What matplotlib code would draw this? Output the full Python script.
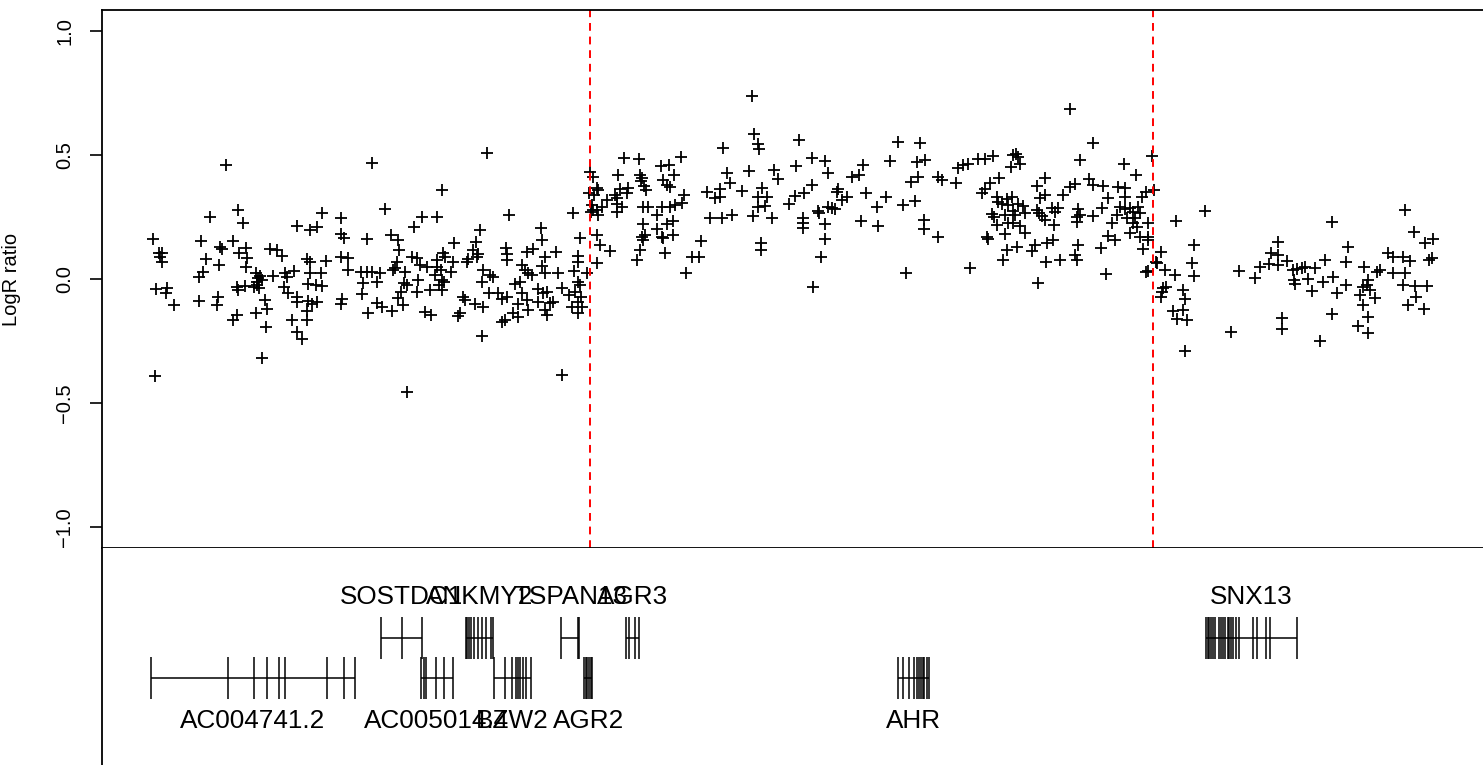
import matplotlib
matplotlib.use("Agg")
import matplotlib.pyplot as plt

plt.rcParams['font.family'] = ['Liberation Sans', 'DejaVu Sans']

# ---------------- data ----------------
# probe positions (Mb, chr7) and LogR ratios
pos = [
    16.164, 16.174, 16.179, 16.176, 16.180, 16.170, 16.188, 16.186, 16.198, 16.168,
    16.241, 16.250, 16.245, 16.239, 16.239, 16.256, 16.281, 16.272, 16.276, 16.271,
    16.269, 16.268, 16.292, 16.301, 16.309, 16.314, 16.302, 16.315, 16.313, 16.299,
    16.301, 16.312, 16.293, 16.299, 16.329, 16.333, 16.336, 16.339, 16.332, 16.327,
    16.334, 16.331, 16.356, 16.352, 16.363, 16.371, 16.330, 16.348, 16.346, 16.344,
    16.340, 16.376, 16.379, 16.375, 16.381, 16.390, 16.395, 16.416, 16.428, 16.436,
    16.412, 16.416, 16.441, 16.416, 16.433, 16.413, 16.425, 16.435, 16.395, 16.396,
    16.413, 16.419, 16.428, 16.412, 16.412, 16.387, 16.396, 16.404, 16.466, 16.466,
    16.471, 16.465, 16.477, 16.477, 16.497, 16.507, 16.501, 16.499, 16.467, 16.465,
    16.508, 16.509,
    16.515, 16.700, 16.628, 16.536, 16.595, 16.620, 16.582, 16.735, 16.837, 16.864,
    16.869, 16.862, 16.848, 16.860, 16.844, 16.844, 16.838, 16.845, 16.848, 16.840,
    16.850, 16.845, 16.851, 16.845, 16.835, 16.830, 16.820, 16.820, 16.785, 16.787,
    16.810, 16.792, 16.787, 16.792, 16.813, 16.773, 16.764, 16.755, 16.760, 16.765,
    16.772, 16.744, 16.752, 16.755, 16.763, 16.749, 16.781, 16.789, 16.796, 16.805,
    16.800, 16.792, 16.795, 16.780, 16.765, 16.741, 16.749, 16.728, 16.724, 16.729,
    16.731, 16.731, 16.732, 16.724, 16.717, 16.703, 16.709, 16.704, 16.691, 16.693,
    16.688, 16.682, 16.677, 16.685, 16.683, 16.669, 16.667, 16.693, 16.680, 16.692,
    16.661, 16.664, 16.656, 16.652, 16.646, 16.645, 16.642, 16.629, 16.632, 16.619,
    16.620, 16.626, 16.616, 16.627, 16.622, 16.631, 16.628, 16.608, 16.609, 16.600,
    16.592, 16.603, 16.587, 16.580, 16.589, 16.587, 16.571, 16.557, 16.565, 16.557,
    16.546, 16.559, 16.555, 16.552, 16.549, 16.568, 16.567, 16.562, 16.515, 16.528,
    16.523, 16.523, 16.532, 16.547, 16.571,
    17.123, 17.127, 17.132, 17.134, 17.198, 17.077, 16.919, 16.942, 17.009, 16.978,
    16.990, 16.908, 16.944, 16.947, 16.946, 16.999, 16.981, 16.987, 16.992, 16.951,
    16.953, 16.912, 16.925, 16.923, 16.875, 16.877, 16.904, 16.907, 16.891, 16.883,
    16.875, 16.877, 16.907, 16.907, 16.915, 16.875, 16.880, 16.875, 16.896, 17.014,
    17.012, 17.000, 16.992, 16.979, 16.949, 16.957, 16.971, 16.949, 16.987, 16.997,
    16.971, 16.979, 16.981, 16.952, 16.947, 16.949, 16.997, 16.944, 16.939, 16.984,
    17.042, 17.027, 17.038, 17.017, 17.052, 17.072, 17.083, 17.088, 17.064, 17.072,
    17.108, 17.118, 17.056, 17.075, 17.092, 17.125, 17.139, 17.132, 17.148, 17.133,
    17.144, 17.156, 17.138, 17.138, 17.158, 17.165, 17.193, 17.219, 17.240, 17.245,
    17.219, 17.207, 17.192, 17.182, 17.228, 17.230, 17.245, 17.205, 17.204, 17.205,
    17.240, 17.240, 17.234, 17.221, 16.871, 16.867, 16.869, 16.866,
    17.356, 17.392, 17.300, 17.344, 17.387, 17.400, 17.284, 17.294, 17.389, 17.378,
    17.421, 17.427, 17.450, 17.452, 17.461, 17.469, 17.485, 17.496, 17.509, 17.541,
    17.545, 17.549, 17.552, 17.538, 17.518, 17.504, 17.496, 17.491, 17.261, 17.259,
    17.275, 17.267, 17.305, 17.338, 17.256, 17.251, 17.323, 17.365, 17.384, 17.298,
    17.324, 17.399, 17.399, 17.420, 17.370, 17.472, 17.592, 17.580, 17.592, 17.584,
    17.621, 17.515, 17.517, 17.531, 17.539, 17.523, 17.533, 17.549, 17.557, 17.560,
    17.541, 17.528, 17.507, 17.511, 17.544, 17.579, 17.582, 17.587, 17.592, 17.603,
    17.613, 17.608, 17.515, 17.533, 17.541, 17.552, 17.560, 17.528, 17.500, 17.501,
    17.532, 17.547, 17.525, 17.576, 17.571, 17.595, 17.605, 17.593, 17.616, 17.581,
    17.606,
    17.632, 17.669, 17.648, 17.718, 17.738, 17.764, 17.663, 17.669, 17.640, 17.632,
    17.685, 17.709, 17.720, 17.693, 17.720, 17.747, 17.754, 17.766, 17.645, 17.648,
    17.643, 17.643, 17.669, 17.683, 17.712, 17.720, 17.728, 17.733, 17.741, 17.744,
    17.708, 17.723, 17.736, 17.699, 17.733, 17.739, 17.756, 17.728, 17.744, 17.756,
    17.757, 17.693, 17.704, 17.749, 17.645, 17.640, 17.644, 17.681, 17.690, 17.754,
    17.757, 17.777, 17.770, 17.772, 17.784, 17.800, 17.781, 17.786, 17.779, 17.777,
    17.802, 17.848, 17.830, 17.827, 17.831, 17.813, 17.816, 17.797, 17.813, 17.803,
    17.819, 17.816, 17.902, 17.928, 17.936, 17.951, 17.954, 17.965, 17.965, 17.965,
    17.979, 17.889, 17.971, 17.971,
    17.989, 17.990, 17.992, 18.008, 17.995, 18.013, 18.024, 18.019, 18.040, 18.037,
    18.053, 18.059, 18.073, 18.074, 18.077, 18.051, 18.051, 18.032, 18.003,
    18.102, 18.107, 18.100, 18.096, 18.112, 18.124, 18.128, 18.101, 18.109, 18.093,
    18.108, 18.120, 18.141, 18.149, 18.165, 18.176, 18.168, 18.149, 18.164, 18.184,
    18.203, 18.186, 18.172, 18.198, 18.168, 18.182, 18.200, 18.213, 18.207, 18.212,
    18.109,
]
logr = [
    0.16, 0.104, 0.104, 0.09, 0.07, -0.042, -0.038, -0.058, -0.105, -0.39,
    0.154, 0.079, 0.03, 0.01, -0.087, 0.25, 0.46, 0.13, 0.122, 0.056,
    -0.071, -0.105, 0.153, 0.278, 0.227, 0.124, 0.106, 0.083, 0.047, -0.031,
    -0.044, -0.028, -0.165, -0.145, 0.023, 0.003, 0.012, -0.004, -0.024, -0.031,
    -0.038, -0.011, 0.012, 0.12, 0.117, 0.093, -0.138, -0.122, -0.192, -0.085,
    -0.32, 0.023, 0.01, -0.031, -0.055, 0.034, 0.214, 0.198, 0.211, 0.265,
    0.08, 0.07, 0.074, 0.025, 0.023, -0.02, -0.024, -0.028, -0.071, -0.091,
    -0.09, -0.1, -0.091, -0.13, -0.165, -0.165, -0.212, -0.24, 0.245, 0.18,
    0.164, 0.09, 0.083, 0.036, 0.03, 0.03, -0.015, -0.06, -0.082, -0.1,
    0.16, -0.136,
    0.466, 0.507, 0.359, 0.281, 0.249, 0.251, 0.211, 0.258, 0.267, 0.433,
    0.412, 0.348, 0.164, 0.023, 0.093, 0.07, 0.034, -0.011, -0.024, -0.051,
    -0.071, -0.091, -0.111, -0.136, -0.111, -0.065, -0.038, -0.387, 0.204, 0.157,
    0.11, 0.09, 0.052, 0.025, 0.023, 0.12, 0.11, 0.056, 0.036, 0.023,
    0.016, -0.021, -0.011, -0.055, -0.085, -0.1, -0.042, -0.055, -0.051, -0.091,
    -0.098, -0.125, -0.145, -0.091, -0.125, -0.138, -0.152, -0.165, -0.172, 0.124,
    0.101, 0.077, -0.071, -0.082, -0.058, -0.058, 0.007, 0.016, -0.011, 0.036,
    0.198, 0.15, 0.117, 0.1, 0.09, 0.079, 0.07, -0.111, -0.1, -0.23,
    -0.071, -0.085, -0.138, -0.149, 0.146, 0.07, 0.03, 0.104, 0.09, 0.077,
    0.05, 0.036, 0.016, -0.004, -0.024, -0.011, -0.044, -0.044, -0.145, -0.132,
    0.056, 0.05, 0.083, 0.09, -0.004, -0.051, -0.024, -0.078, -0.105, 0.157,
    0.177, 0.117, 0.07, 0.043, 0.036, 0.03, -0.015, -0.051, 0.03, 0.025,
    -0.011, -0.098, -0.114, -0.131, -0.457,
    0.739, 0.585, 0.544, 0.524, 0.56, 0.527, 0.489, 0.484, 0.493, 0.456,
    0.46, 0.419, 0.419, 0.406, 0.395, 0.419, 0.399, 0.379, 0.37, 0.375,
    0.359, 0.363, 0.366, 0.345, 0.366, 0.359, 0.339, 0.325, 0.319, 0.292,
    0.278, 0.258, 0.302, 0.271, 0.292, 0.177, 0.137, 0.063, 0.114, 0.339,
    0.308, 0.298, 0.289, 0.292, 0.292, 0.292, 0.258, 0.222, 0.222, 0.235,
    0.2, 0.171, 0.164, 0.177, 0.171, 0.157, 0.177, 0.117, 0.077, 0.104,
    0.153, 0.087, 0.09, 0.023, 0.352, 0.361, 0.429, 0.386, 0.325, 0.329,
    0.356, 0.437, 0.245, 0.245, 0.258, 0.254, 0.366, 0.332, 0.332, 0.292,
    0.294, 0.245, 0.144, 0.117, 0.44, 0.403, 0.456, 0.489, 0.476, 0.429,
    0.379, 0.345, 0.335, 0.302, 0.274, 0.267, 0.289, 0.245, 0.227, 0.204,
    0.222, 0.16, 0.09, -0.031, 0.339, 0.30, 0.28, 0.27,
    0.554, 0.547, 0.46, 0.477, 0.473, 0.48, 0.412, 0.419, 0.41, 0.392,
    0.41, 0.399, 0.388, 0.446, 0.46, 0.464, 0.484, 0.484, 0.496, 0.5,
    0.504, 0.491, 0.464, 0.45, 0.406, 0.386, 0.362, 0.345, 0.362, 0.352,
    0.329, 0.319, 0.345, 0.329, 0.281, 0.285, 0.292, 0.298, 0.316, 0.235,
    0.214, 0.238, 0.2, 0.171, 0.023, 0.046, 0.406, 0.375, 0.339, 0.325,
    0.339, 0.329, 0.312, 0.321, 0.332, 0.302, 0.298, 0.302, 0.294, 0.267,
    0.276, 0.258, 0.262, 0.251, 0.258, 0.278, 0.267, 0.254, 0.238, 0.285,
    0.285, 0.271, 0.218, 0.224, 0.224, 0.214, 0.184, 0.181, 0.171, 0.16,
    0.117, 0.13, 0.077, 0.137, 0.114, 0.144, 0.157, 0.07, 0.077, -0.017,
    0.216,
    0.685, 0.55, 0.48, 0.464, 0.419, 0.497, 0.402, 0.379, 0.383, 0.372,
    0.375, 0.37, 0.366, 0.325, 0.332, 0.332, 0.352, 0.359, 0.281, 0.258,
    0.251, 0.231, 0.254, 0.285, 0.292, 0.281, 0.285, 0.271, 0.292, 0.265,
    0.258, 0.245, 0.245, 0.224, 0.224, 0.211, 0.224, 0.184, 0.171, 0.171,
    0.157, 0.173, 0.157, 0.12, 0.137, 0.097, 0.077, 0.126, 0.019, 0.03,
    0.034, 0.108, 0.07, 0.063, 0.036, 0.016, -0.038, -0.031, -0.051, -0.074,
    0.235, 0.276, 0.137, 0.063, 0.012, -0.044, -0.082, -0.128, -0.125, -0.163,
    -0.165, -0.289, 0.032, 0.003, 0.05, 0.06, 0.106, 0.15, 0.097, 0.056,
    0.074, -0.212, -0.159, -0.203,
    0.036, -0.004, -0.02, 0.047, 0.039, -0.001, 0.043, -0.047, 0.077, -0.011,
    0.009, -0.058, -0.024, 0.07, 0.13, 0.231, -0.141, -0.25, 0.043,
    0.047, -0.024, -0.034, -0.065, -0.044, 0.03, 0.036, -0.105, -0.152, -0.19,
    -0.219, -0.078, 0.106, 0.09, 0.09, 0.074, 0.023, 0.025, -0.024, -0.028,
    -0.028, -0.071, -0.105, -0.122, 0.278, 0.191, 0.146, 0.16, 0.077, 0.083,
    -0.004,
]
# segment breakpoints (Mb)
breakpoints = [16.864, 17.765]

# genes: name, track row (0 = upper, 1 = lower), exon positions (Mb)
gene_names = ["SOSTDC1", "ANKMY2", "TSPAN13", "AGR3", "SNX13",
              "AC004741.2", "AC005014.4", "BZW2", "AGR2", "AHR"]
gene_rows = [0, 0, 0, 0, 0, 1, 1, 1, 1, 1]
gene_exons = [
    [16.530, 16.563, 16.595],
    [16.665, 16.668, 16.671, 16.674, 16.679, 16.684, 16.691, 16.698, 16.706, 16.709],
    [16.818, 16.844, 16.847],
    [16.922, 16.926, 16.936, 16.942],
    [17.849, 17.852, 17.854, 17.858, 17.861, 17.864, 17.871, 17.874, 17.877, 17.880,
     17.884, 17.887, 17.890, 17.893, 17.898, 17.903, 17.925, 17.931, 17.946, 17.952, 17.995],
    [16.161, 16.285, 16.326, 16.347, 16.367, 16.376, 16.444, 16.470, 16.488],
    [16.593, 16.598, 16.601, 16.618, 16.630, 16.645],
    [16.711, 16.728, 16.740, 16.745, 16.749, 16.752, 16.757, 16.761, 16.769],
    [16.855, 16.857, 16.860, 16.862, 16.865, 16.868],
    [17.357, 17.364, 17.374, 17.383, 17.387, 17.390, 17.393, 17.396, 17.399, 17.403, 17.406],
]

yticks = [-1.0, -0.5, 0.0, 0.5, 1.0]
ytick_labels = ["\u22121.0", "\u22120.5", "0.0", "0.5", "1.0"]

# ---------------- figure ----------------
W, H = 1483, 765
fig = plt.figure(figsize=(W / 100, H / 100), dpi=100)
left = 102 / W
split = 217 / H
top_ax = fig.add_axes([left, split, 1 - left, (548 - 10) / H])
trk_ax = fig.add_axes([left, 0, 1 - left, split], sharex=top_ax)

xlim = (16.0832, 18.2928)

# scatter panel
top_ax.plot(pos, logr, linestyle="none", marker="+", markersize=8,
            markeredgewidth=1.3, color="black", clip_on=False)
for b in breakpoints:
    top_ax.axvline(b, color="red", linestyle=(0, (4, 3)), linewidth=1.4)
top_ax.set_xlim(*xlim)
top_ax.set_ylim(-1.085, 1.085)
top_ax.set_yticks(yticks)
top_ax.set_yticklabels(ytick_labels, rotation=90, va="center")
top_ax.tick_params(axis="y", length=9, width=1.2, labelsize=14.5, pad=11)
top_ax.tick_params(axis="x", bottom=False, labelbottom=False)
top_ax.spines["right"].set_visible(False)
for s in ["left", "top", "bottom"]:
    top_ax.spines[s].set_linewidth(1.3)
fig.text(12 / W, (H - 279) / H, "LogR ratio", rotation=90,
         ha="center", va="center", fontsize=14.5)

# gene track panel
row_y = [0.585, 0.401]
half = 0.097
label_y = [0.774, 0.203]
trk_ax.set_ylim(0, 1)
for name, row, exons in zip(gene_names, gene_rows, gene_exons):
    y = row_y[row]
    trk_ax.hlines(y, min(exons), max(exons), color="black", linewidth=1.1)
    trk_ax.vlines(exons, y - half, y + half, color="black", linewidth=1.1)
    trk_ax.text((min(exons) + max(exons)) / 2, label_y[row], name,
                ha="center", va="center", fontsize=18.8)
trk_ax.set_xlim(*xlim)
trk_ax.set_yticks([])
trk_ax.tick_params(axis="x", bottom=False, labelbottom=False)
for s in ["right", "top", "bottom"]:
    trk_ax.spines[s].set_visible(False)
trk_ax.spines["left"].set_linewidth(1.3)

fig.savefig("out.png", dpi=100)
